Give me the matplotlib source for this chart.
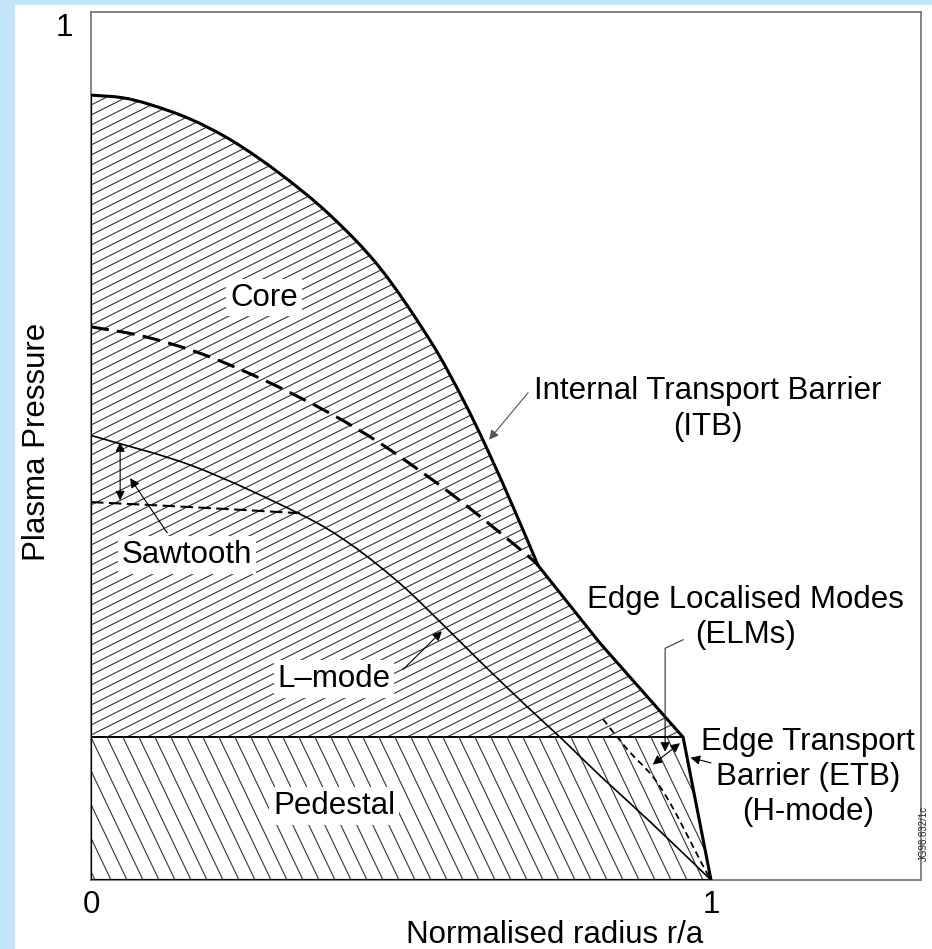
import matplotlib
matplotlib.use("Agg")
import matplotlib.pyplot as plt
import numpy as np
from matplotlib.patches import PathPatch, Rectangle
from matplotlib.path import Path
from matplotlib.collections import LineCollection

plt.rcParams['font.family'] = ['Liberation Sans', 'DejaVu Sans']

# ---------------- data (normalised radius, normalised pressure) ----------------
core_x = [0.0, 0.05, 0.095, 0.16, 0.229, 0.305, 0.385, 0.466, 0.547, 0.600, 0.639, 0.681, 0.721]
core_y = [0.918, 0.915, 0.907, 0.890, 0.864, 0.826, 0.778, 0.716, 0.631, 0.562, 0.504, 0.436, 0.368]

edge_x = [0.721, 0.821, 0.955, 1.0]   # ITB foot -> ETB top -> separatrix
edge_y = [0.368, 0.277, 0.167, 0.0]

pedestal_top = 0.167

hmode_x = [0.0, 0.084, 0.18, 0.284, 0.385, 0.466, 0.547, 0.600, 0.655, 0.708, 0.721]
hmode_y = [0.647, 0.636, 0.615, 0.583, 0.546, 0.511, 0.470, 0.441, 0.409, 0.377, 0.368]

lmode_x = [0.0, 0.165, 0.337, 0.418, 0.498, 0.563, 0.627, 0.703, 0.761, 0.821, 0.902, 1.0]
lmode_y = [0.520, 0.484, 0.428, 0.393, 0.347, 0.302, 0.256, 0.203, 0.164, 0.122, 0.068, 0.0]

saw_x = [0.0, 0.165, 0.337]
saw_y = [0.442, 0.436, 0.429]

elm_x = [0.826, 0.866, 0.905, 0.934, 0.962, 0.986, 1.0]
elm_y = [0.188, 0.152, 0.122, 0.090, 0.052, 0.018, 0.0]

xtick_vals = [0, 1]
xtick_labels = ['0', '1']
ytick_vals = [1]
ytick_labels = ['1']


def smooth_segments(xs, ys):
    """Catmull-Rom through the points, expressed as cubic Bezier path segments."""
    P = np.column_stack([xs, ys]).astype(float)
    n = len(P)
    verts, codes = [], []
    for i in range(n - 1):
        p0 = P[i - 1] if i > 0 else 2 * P[0] - P[1]
        p1, p2 = P[i], P[i + 1]
        p3 = P[i + 2] if i + 2 < n else 2 * P[-1] - P[-2]
        verts += [p1 + (p2 - p0) / 6.0, p2 - (p3 - p1) / 6.0, p2]
        codes += [Path.CURVE4] * 3
    return P[0], verts, codes


def smooth_path(xs, ys):
    start, v, c = smooth_segments(xs, ys)
    return Path([start] + v, [Path.MOVETO] + c)


# ---------------- figure ----------------
W, H = 932, 949
fig = plt.figure(figsize=(W / 100, H / 100), dpi=100, facecolor='#C2E5FC')
fig.patches.append(Rectangle((15 / W, 0), 1 - 15 / W, (H - 5) / H, transform=fig.transFigure,
                             facecolor='white', edgecolor='none', zorder=-5))

ax_l, ax_b, ax_w, ax_h = 91, H - 880, 830, 868
ax = fig.add_axes([ax_l / W, ax_b / H, ax_w / W, ax_h / H])
ax.set_zorder(1)
ax.set_facecolor('white')
px_x, px_y = 620.0, 855.0          # pixels per data unit
ax.set_xlim(0, ax_w / px_x)
ax.set_ylim(0, ax_h / px_y)

for s in ax.spines.values():
    s.set_color('#7a7a7a')
    s.set_linewidth(1.3)

fs = 22.5
ax.set_xticks(xtick_vals)
ax.set_xticklabels(xtick_labels)
ax.set_yticks(ytick_vals)
ax.set_yticklabels(ytick_labels)
ax.tick_params(length=0, labelsize=fs)
ax.tick_params(axis='x', pad=7)
ax.tick_params(axis='y', pad=13)

ax.set_xlabel('Normalised radius r/a', fontsize=fs)
ax.xaxis.set_label_coords((555 - ax_l) / ax_w, -0.046)
ax.set_ylabel('Plasma Pressure', fontsize=fs)
ax.yaxis.set_label_coords(-0.047, (880 - 442) / ax_h)

# ---------------- hatched regions ----------------
c_start, c_verts, c_codes = smooth_segments(core_x, core_y)
up_verts = [(0.0, pedestal_top), c_start] + c_verts + \
           list(zip(edge_x[1:-1], edge_y[1:-1])) + [(edge_x[-2], pedestal_top), (0.0, pedestal_top)]
up_codes = [Path.MOVETO, Path.LINETO] + c_codes + \
           [Path.LINETO] * (len(edge_x) - 2) + [Path.LINETO, Path.CLOSEPOLY]
up_patch = PathPatch(Path(up_verts, up_codes), facecolor='none', edgecolor='none')

ped_verts = [(0.0, 0.0), (0.0, pedestal_top), (edge_x[-2], pedestal_top), (edge_x[-1], 0.0), (0.0, 0.0)]
ped_codes = [Path.MOVETO, Path.LINETO, Path.LINETO, Path.LINETO, Path.CLOSEPOLY]
ped_patch = PathPatch(Path(ped_verts, ped_codes), facecolor='none', edgecolor='none')
ax.add_patch(up_patch)
ax.add_patch(ped_patch)

hatch_col = '#333333'
# upper hatch: shallow lines rising to the right
m_up = 0.5 * px_x / px_y
dy = 10.0 / px_y
segs = [[(0, b), (1.2, b + m_up * 1.2)] for b in np.arange(-1.0, 1.1, dy)]
lc1 = LineCollection(segs, colors=hatch_col, linewidths=0.8, zorder=1)
ax.add_collection(lc1)
lc1.set_clip_path(up_patch)

# pedestal hatch: steep lines falling to the right
m_ped = 2.1 * px_x / px_y
dx = 16.0 / px_x
segs = [[(c - 0.25 / m_ped, 0.25), (c, 0.0)] for c in np.arange(-0.2, 1.3, dx)]
lc2 = LineCollection(segs, colors=hatch_col, linewidths=0.8, zorder=1)
ax.add_collection(lc2)
lc2.set_clip_path(ped_patch)

# ---------------- profiles ----------------
def curve(xs, ys, lw, dashes=None):
    ls = '-' if dashes is None else (0, dashes)
    ax.add_patch(PathPatch(smooth_path(xs, ys), facecolor='none', edgecolor='k', lw=lw,
                           linestyle=ls, capstyle='butt', joinstyle='round', zorder=3))

ax.plot([0, 0], [0, core_y[0]], color='k', lw=1.6, zorder=3, solid_capstyle='butt')
ax.plot([0, edge_x[-1]], [0, 0], color='k', lw=1.6, zorder=3)
ax.plot([0, edge_x[-2]], [pedestal_top, pedestal_top], color='k', lw=1.4, zorder=3)
curve(core_x, core_y, 2.2)
ax.plot(edge_x, edge_y, color='k', lw=2.2, zorder=3, solid_joinstyle='miter')
curve(hmode_x, hmode_y, 2.2, (5.9, 2.7))
curve(lmode_x, lmode_y, 1.2)
curve(saw_x, saw_y, 1.5, (6.0, 2.6))
curve(elm_x, elm_y, 1.3, (3.6, 2.4))

# ---------------- labels ----------------
box = dict(boxstyle='square,pad=0.12', facecolor='white', edgecolor='none')
ax.text(0.279, 0.681, 'Core', fontsize=fs, ha='center', va='center', bbox=box, zorder=4)
ax.text(0.155, 0.380, 'Sawtooth', fontsize=fs, ha='center', va='center', bbox=box, zorder=4)
ax.text(0.392, 0.235, 'L\u2013mode', fontsize=fs, ha='center', va='center', bbox=box, zorder=4)
ax.text(0.392, 0.0866, 'Pedestal', fontsize=fs, ha='center', va='center', bbox=box, zorder=4)

ax.text(0.995, 0.551, 'Internal Transport Barrier\n(ITB)', fontsize=fs, ha='center',
        va='center', linespacing=1.25, zorder=4)
ax.text(1.055, 0.307, 'Edge Localised Modes\n(ELMs)', fontsize=fs, ha='center',
        va='center', linespacing=1.25, zorder=4)
ax.text(1.156, 0.1205, 'Edge Transport\nBarrier (ETB)\n(H-mode)', fontsize=fs, ha='center',
        va='center', linespacing=1.2, zorder=4)

def arrow(tip, tail, style='-|>', color='k', lw=0.8):
    ax.annotate('', xy=tip, xytext=tail,
                arrowprops=dict(arrowstyle=style, color=color, lw=lw, mutation_scale=14,
                                shrinkA=0, shrinkB=0), zorder=5)

arrow((0.642, 0.515), (0.705, 0.570), color='#555')          # ITB
arrow((0.047, 0.444), (0.047, 0.512), style='<|-|>')          # sawtooth amplitude
arrow((0.063, 0.470), (0.123, 0.406))                         # sawtooth pointer
arrow((0.566, 0.291), (0.503, 0.246))                         # L-mode pointer
ax.plot([0.955, 0.926, 0.926], [0.281, 0.271, 0.19], color='#333', lw=0.8, zorder=5)
arrow((0.926, 0.150), (0.926, 0.19))                          # ELM pointer
arrow((0.906, 0.135), (0.950, 0.160), style='<|-|>')          # ELM crash
arrow((0.967, 0.143), (1.0, 0.137))                           # ETB pointer

fig.text(924 / W, 1 - 833 / H, 'JG98.832/1c', rotation=90, fontsize=7,
         ha='center', va='center', color='#222')

fig.savefig('out.png', dpi=100, facecolor=fig.get_facecolor())
